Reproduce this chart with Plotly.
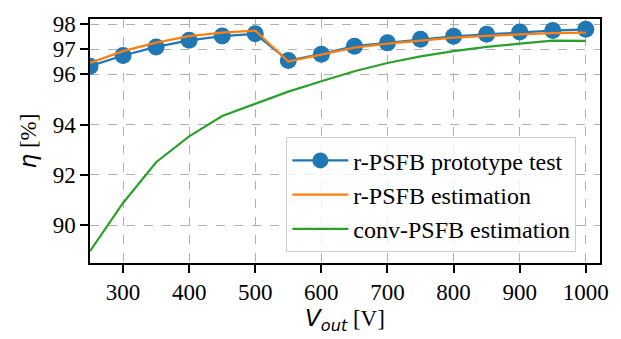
import plotly.graph_objects as go

v_out = [250, 300, 350, 400, 450, 500, 550, 600, 650, 700, 750, 800, 850, 900, 950, 1000]
eta_test = [96.32, 96.75, 97.09, 97.35, 97.52, 97.61, 96.55, 96.80, 97.12, 97.25, 97.39, 97.51, 97.59, 97.68, 97.74, 97.79]
eta_r_est = [96.45, 96.92, 97.26, 97.52, 97.66, 97.74, 96.51, 96.77, 97.06, 97.22, 97.35, 97.46, 97.53, 97.60, 97.64, 97.66]
eta_conv_est = [88.96, 90.88, 92.50, 93.53, 94.34, 94.83, 95.31, 95.72, 96.12, 96.45, 96.71, 96.92, 97.09, 97.22, 97.34, 97.33]
y_ticks = [90, 92, 94, 96, 97, 98]
x_ticks = [300, 400, 500, 600, 700, 800, 900, 1000]

SERIF = "Liberation Serif, Times New Roman, serif"
SANS_STYLE = "font-family:'DejaVu Sans';font-style:italic"

fig = go.Figure()
fig.add_trace(go.Scatter(x=v_out, y=eta_test, mode="lines+markers", name="r-PSFB prototype test",
                         line=dict(color="#1f77b4", width=2.2),
                         marker=dict(color="#1f77b4", size=17)))
fig.add_trace(go.Scatter(x=v_out, y=eta_r_est, mode="lines", name="r-PSFB estimation",
                         line=dict(color="#ff7f0e", width=2.2)))
fig.add_trace(go.Scatter(x=v_out, y=eta_conv_est, mode="lines", name="conv-PSFB estimation",
                         line=dict(color="#2ca02c", width=2.2)))

def axis_common():
    return dict(showline=True, mirror=True, linecolor="black", linewidth=1.5,
                ticks="outside", ticklen=8, tickwidth=1.5, tickcolor="black",
                showgrid=True, gridcolor="#b0b0b0", griddash="dash", gridwidth=1,
                zeroline=False, tickfont=dict(family=SERIF, size=23, color="black"))

fig.update_xaxes(range=[250, 1021.5], tickvals=x_ticks,
                 title=dict(text=f'<span style="{SANS_STYLE}">V</span><sub><span style="{SANS_STYLE}">out</span></sub> [V]',
                            font=dict(family=SERIF, size=23, color="black"), standoff=6),
                 **axis_common())
fig.update_yaxes(range=[88.49, 98.2], tickvals=y_ticks,
                 title=dict(text=f'<span style="{SANS_STYLE}">η</span> [%]',
                            font=dict(family=SERIF, size=23, color="black"), standoff=10),
                 **axis_common())

fig.update_layout(
    width=621, height=339,
    margin=dict(l=90, r=17, t=15, b=74),
    plot_bgcolor="white", paper_bgcolor="white",
    font=dict(family=SERIF, size=23, color="black"),
    legend=dict(x=0.385, y=0.515, xanchor="left", yanchor="top",
                bgcolor="rgba(255,255,255,0.8)", bordercolor="#cccccc", borderwidth=1,
                font=dict(family=SERIF, size=24, color="black"), itemwidth=56,
                tracegroupgap=0),
    showlegend=True,
)

fig.write_html("out.html")
